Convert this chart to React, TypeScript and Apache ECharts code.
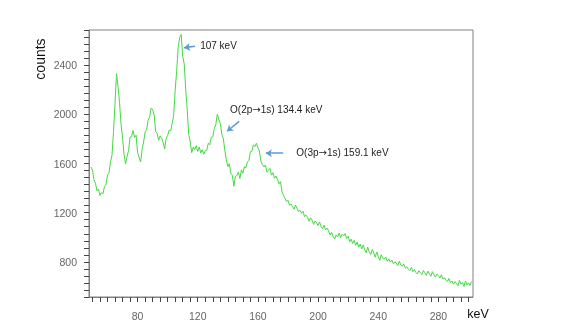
import { useEffect, useRef } from "react";
import * as echarts from "echarts";

// Spectrum: counts per 1 keV bin, starting at 49 keV
const START_KEV = 49;
const STEP_KEV = 1;
const counts = [
  1572, 1545, 1468, 1440, 1378, 1392, 1340, 1362, 1355, 1412, // 49-58
  1428, 1505, 1522, 1615, 1668, 1860, 2090, 2330, 2225, 2095, // 59-68
  1920, 1815, 1672, 1598, 1655, 1705, 1815, 1820, 1868, 1812, // 69-78
  1830, 1688, 1650, 1612, 1712, 1775, 1855, 1878, 1952, 1975, // 79-88
  2050, 2040, 1995, 1862, 1845, 1788, 1825, 1805, 1772, 1718, // 89-98
  1805, 1828, 1872, 1865, 1925, 1990, 2195, 2355, 2545, 2625, // 99-108
  2650, 2470, 2410, 2205, 2035, 1835, 1775, 1688, 1735, 1712, // 109-118
  1745, 1698, 1735, 1685, 1712, 1675, 1705, 1708, 1765, 1752, // 119-128
  1815, 1818, 1885, 1915, 2000, 1958, 1925, 1838, 1805, 1705, // 129-138
  1632, 1575, 1598, 1520, 1505, 1415, 1495, 1502, 1530, 1478, // 139-148
  1548, 1520, 1575, 1565, 1612, 1625, 1695, 1700, 1752, 1738, // 149-158
  1765, 1728, 1702, 1618, 1590, 1572, 1588, 1530, 1545, 1560, // 159-168
  1505, 1525, 1480, 1498, 1470, 1435, 1452, 1372, 1340, 1318, // 169-178
  1290, 1302, 1262, 1270, 1252, 1228, 1262, 1235, 1208, 1220, // 179-188
  1195, 1212, 1168, 1180, 1162, 1130, 1158, 1140, 1105, 1132, // 189-198
  1118, 1096, 1125, 1085, 1070, 1098, 1060, 1075, 1052, 1018, // 199-208
  1040, 1005, 985, 1020, 1002, 1035, 998, 1025, 1012, 1030,   // 209-218
  990, 1008, 962, 985, 950, 975, 935, 962, 920, 945,          // 219-228
  905, 938, 898, 875, 920, 882, 860, 900, 872, 838,           // 229-238
  880, 845, 812, 858, 830, 822, 840, 805, 825, 798,           // 239-248
  815, 785, 800, 790, 770, 805, 775, 765, 782, 748,           // 249-258
  760, 740, 728, 755, 720, 738, 715, 702, 728, 710,           // 259-268
  698, 730, 712, 690, 725, 700, 682, 720, 695, 676,           // 269-278
  700, 688, 668, 695, 660, 672, 650, 640, 665, 630,           // 279-288
  645, 618, 640, 625, 605, 650, 618, 632, 600, 645,           // 289-298
  612, 630, 608, 640,                                         // 299-302
];

const xLabels = [80, 120, 160, 200, 240, 280];
const yLabels = [800, 1200, 1600, 2000, 2400];
const X_MIN = 47.7;
const X_MAX = 303;
// y ticks every 400/7 counts; the axis spans 9..47 tick steps
const Y_TICK = 400 / 7;
const Y_MIN = 9 * Y_TICK;
const Y_MAX = 47 * Y_TICK;

const annotationParts = [
  ["107 keV", "", ""],
  ["O(2p", "\u2192", "1s) 134.4 keV"],
  ["O(3p", "\u2192", "1s) 159.1 keV"],
];
const annotationTextAt = [
  [121.6, 2562],
  [141.5, 2041],
  [185.5, 1690],
];
const arrowFrom = [
  [118.2, 2554],
  [147.5, 1943],
  [176.8, 1684],
];
const arrowTo = [
  [110.9, 2541],
  [139.5, 1862],
  [165.3, 1684],
];

export default function App() {
  const ref = useRef<HTMLDivElement>(null);

  useEffect(() => {
    if (!ref.current) return;
    const chart = echarts.init(ref.current, null, { renderer: "svg" });

    const data = counts.map((c, i) => [START_KEV + i * STEP_KEV, c]);

    const xTicks: number[] = [];
    for (let v = 50; v <= 300; v += 5) xTicks.push(v);

    const axisColor = "#808080";
    const tickColor = "#444";
    const font = "'Liberation Sans', Arial, sans-serif";

    chart.setOption({
      animation: false,
      grid: {
        left: 89,
        top: 30,
        right: 112,
        bottom: 32,
        show: true,
        borderColor: axisColor,
        borderWidth: 1,
      },
      xAxis: {
        type: "value",
        min: X_MIN,
        max: X_MAX,
        axisLine: { show: true, lineStyle: { color: axisColor } },
        axisTick: {
          show: true,
          length: 5,
          customValues: xTicks,
          lineStyle: { color: tickColor, width: 1 },
        },
        axisLabel: {
          customValues: xLabels,
          margin: 13,
          color: "#666",
          fontSize: 10.5,
          fontFamily: font,
          formatter: (v: number) => String(v),
        },
        splitLine: { show: false },
      },
      yAxis: {
        type: "value",
        min: Y_MIN,
        max: Y_MAX,
        interval: Y_TICK,
        axisLine: { show: true, lineStyle: { color: axisColor } },
        axisTick: {
          show: true,
          length: 5,
          lineStyle: { color: tickColor, width: 1 },
        },
        axisLabel: {
          margin: 12,
          color: "#666",
          fontSize: 10.5,
          fontFamily: font,
          formatter: (v: number) => {
            const r = Math.round(v);
            return yLabels.indexOf(r) >= 0 && Math.abs(v - r) < 0.01 ? String(r) : "";
          },
        },
        splitLine: { show: false },
      },
      series: [
        {
          type: "line",
          data,
          showSymbol: false,
          symbol: "none",
          lineStyle: { color: "#44d944", width: 1 },
          silent: true,
          markLine: {
            silent: true,
            animation: false,
            label: { show: false },
            emphasis: { disabled: true },
            lineStyle: { color: "#5b9bd5", width: 1.5, type: "solid" },
            symbolSize: 6,
            data: arrowFrom.map((f, i) => [
              { coord: f, symbol: "none" },
              { coord: arrowTo[i], symbol: "arrow" },
            ]),
          },
        },
      ],
    });

    const texts = annotationParts.map((parts, i) => {
      const p = chart.convertToPixel({ xAxisIndex: 0, yAxisIndex: 0 }, annotationTextAt[i]) as number[];
      const text = parts[1]
        ? `{a|${parts[0]}}{b|${parts[1]}}{a|${parts[2]}}`
        : `{a|${parts[0]}}`;
      return {
        type: "text",
        x: p[0],
        y: p[1],
        style: {
          text,
          verticalAlign: "middle",
          align: "left",
          rich: {
            a: { fill: "#222", fontSize: 10, fontFamily: font },
            b: { fill: "#222", fontSize: 10, fontFamily: "'DejaVu Sans', sans-serif" },
          },
        },
      };
    });

    chart.setOption({
      graphic: [
        ...texts,
        {
          type: "text",
          x: 40,
          y: 59,
          rotation: Math.PI / 2,
          style: {
            text: "counts",
            fill: "#111",
            fontSize: 14,
            fontFamily: font,
            align: "center",
            verticalAlign: "middle",
          },
        },
        {
          type: "text",
          x: 478,
          y: 314,
          style: {
            text: "keV",
            fill: "#111",
            fontSize: 12.5,
            fontFamily: font,
            align: "center",
            verticalAlign: "middle",
          },
        },
      ],
    });

    return () => chart.dispose();
  }, []);

  return (
    <div
      ref={ref}
      style={{ position: "fixed", left: 0, top: 0, width: 585, height: 329 }}
    />
  );
}
